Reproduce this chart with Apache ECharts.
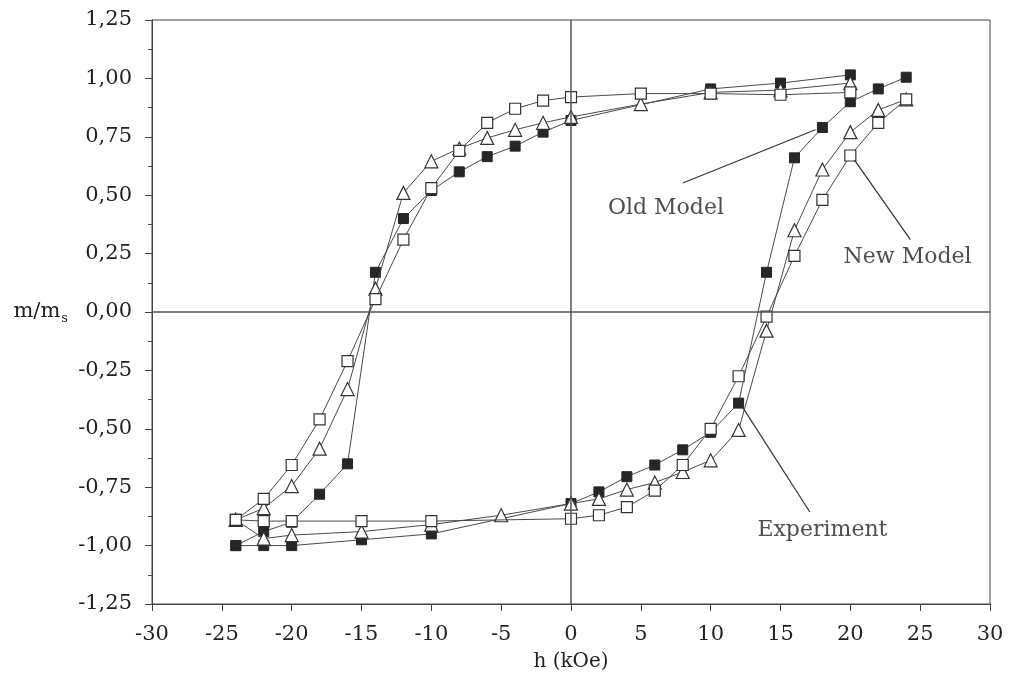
<!DOCTYPE html>
<html>
<head>
<meta charset="utf-8">
<script src="https://cdn.jsdelivr.net/npm/echarts@6/dist/echarts.min.js"></script>
<style>
html,body{margin:0;padding:0;background:#fff;}
#c{width:1010px;height:688px;}
</style>
</head>
<body>
<div id="c"></div>
<script>
// ---- data (h in kOe, m/ms) ----
// Filled squares
const expUpperH = [20, 15, 10, 0, -2, -4, -6, -8, -10, -12, -14, -16, -18, -20, -22, -24];
const expUpperM = [1.015, 0.98, 0.955, 0.82, 0.77, 0.71, 0.665, 0.60, 0.52, 0.40, 0.17, -0.65, -0.78, -0.90, -0.94, -1.00];
const expLowerH = [-24, -22, -20, -15, -10, 0, 2, 4, 6, 8, 10, 12, 14, 16, 18, 20, 22, 24];
const expLowerM = [-1.00, -1.00, -1.00, -0.975, -0.95, -0.82, -0.77, -0.705, -0.655, -0.59, -0.515, -0.39, 0.17, 0.66, 0.79, 0.90, 0.955, 1.005];
// Triangles
const oldUpperH = [20, 15, 10, 5, 0, -2, -4, -6, -8, -10, -12, -14, -16, -18, -20, -22, -24];
const oldUpperM = [0.98, 0.95, 0.94, 0.89, 0.835, 0.81, 0.78, 0.745, 0.70, 0.645, 0.51, 0.10, -0.33, -0.585, -0.745, -0.84, -0.89];
const oldLowerH = [-24, -22, -20, -15, -10, -5, 0, 2, 4, 6, 8, 10, 12, 14, 16, 18, 20, 22, 24];
const oldLowerM = [-0.89, -0.97, -0.955, -0.94, -0.91, -0.87, -0.82, -0.80, -0.76, -0.73, -0.685, -0.635, -0.505, -0.08, 0.35, 0.61, 0.77, 0.865, 0.91];
// Open squares
const newUpperH = [20, 15, 10, 5, 0, -2, -4, -6, -8, -10, -12, -14, -16, -18, -20, -22, -24];
const newUpperM = [0.94, 0.93, 0.935, 0.935, 0.92, 0.905, 0.87, 0.81, 0.69, 0.53, 0.31, 0.055, -0.21, -0.46, -0.655, -0.80, -0.89];
const newLowerH = [-24, -22, -20, -15, -10, 0, 2, 4, 6, 8, 10, 12, 14, 16, 18, 20, 22, 24];
const newLowerM = [-0.89, -0.895, -0.895, -0.895, -0.895, -0.885, -0.87, -0.835, -0.765, -0.655, -0.50, -0.275, -0.02, 0.24, 0.48, 0.67, 0.81, 0.91];

const xTicks = [-30, -25, -20, -15, -10, -5, 0, 5, 10, 15, 20, 25, 30];
const yTicks = [-1.25, -1.00, -0.75, -0.50, -0.25, 0.00, 0.25, 0.50, 0.75, 1.00, 1.25];
const annotationLabels = ['Old Model', 'New Model', 'Experiment'];

function pairs(h, m) { return h.map((v, i) => [v, m[i]]); }

const FONT = 'DejaVu Serif';
const lineCol = '#4a4a4a';

const chart = echarts.init(document.getElementById('c'), null, {renderer: 'canvas'});

const filledStyle = {
  type: 'line', symbol: 'rect', symbolSize: 10, showSymbol: true,
  lineStyle: {color: lineCol, width: 1},
  itemStyle: {color: '#262626', borderColor: '#262626', borderWidth: 1},
  z: 2, animation: false, silent: true
};
const triStyle = {
  type: 'line', symbol: 'triangle', symbolSize: 13, showSymbol: true,
  lineStyle: {color: lineCol, width: 1},
  itemStyle: {color: '#ffffff', borderColor: '#333', borderWidth: 1.2},
  z: 3, animation: false, silent: true
};
const openStyle = {
  type: 'line', symbol: 'rect', symbolSize: 11, showSymbol: true,
  lineStyle: {color: lineCol, width: 1},
  itemStyle: {color: '#ffffff', borderColor: '#333', borderWidth: 1.2},
  z: 4, animation: false, silent: true
};

const option = {
  animation: false,
  backgroundColor: '#ffffff',
  grid: {left: 152, right: 20, top: 20, bottom: 84, show: true, borderColor: '#444', borderWidth: 1, backgroundColor: 'transparent'},
  xAxis: {
    type: 'value', min: xTicks[0], max: xTicks[xTicks.length - 1], interval: 5,
    name: 'h (kOe)', nameLocation: 'middle', nameGap: 48,
    nameTextStyle: {fontFamily: FONT, fontSize: 20, color: '#222'},
    axisLine: {show: true, onZero: false, lineStyle: {color: '#444', width: 1}},
    axisTick: {show: true, length: 7, lineStyle: {color: '#444'}},
    minorTick: {show: false},
    axisLabel: {fontFamily: FONT, fontSize: 21, color: '#222', margin: 20,
      formatter: v => String(v)},
    splitLine: {show: false}
  },
  yAxis: {
    type: 'value', min: yTicks[0], max: yTicks[yTicks.length - 1], interval: 0.25,
    name: '{a|m/m}{b|s}', nameLocation: 'middle', nameRotate: 0, nameGap: 84,
    nameTextStyle: {fontFamily: FONT, color: '#222',
      rich: {a: {fontFamily: FONT, fontSize: 21, color: '#222'},
             b: {fontFamily: FONT, fontSize: 13, color: '#222', padding: [14, 0, 0, 1]}}},
    axisLine: {show: true, onZero: false, lineStyle: {color: '#444', width: 1}},
    axisTick: {show: true, length: 7, lineStyle: {color: '#444'}},
    minorTick: {show: true, splitNumber: 2, length: 4, lineStyle: {color: '#444'}},
    axisLabel: {fontFamily: FONT, fontSize: 21, color: '#222', margin: 20,
      formatter: v => v.toFixed(2).replace('.', ',')},
    splitLine: {show: false}
  },
  series: [
    Object.assign({name: 'Experiment', data: pairs(expUpperH, expUpperM)}, filledStyle),
    Object.assign({name: 'Experiment', data: pairs(expLowerH, expLowerM)}, filledStyle),
    Object.assign({name: 'Old Model', data: pairs(oldUpperH, oldUpperM)}, triStyle),
    Object.assign({name: 'Old Model', data: pairs(oldLowerH, oldLowerM)}, triStyle),
    Object.assign({name: 'New Model', data: pairs(newUpperH, newUpperM)}, openStyle),
    Object.assign({name: 'New Model', data: pairs(newLowerH, newLowerM)}, openStyle),
    {
      // zero lines
      type: 'line', data: [], silent: true, z: 1,
      markLine: {
        silent: true, symbol: ['none', 'none'], animation: false,
        label: {show: false},
        lineStyle: {color: '#555', width: 1.5, type: 'solid'},
        data: [{xAxis: 0}, {yAxis: 0}]
      }
    },
    {
      // annotation labels and pointer lines
      type: 'scatter', symbolSize: 1, silent: true, z: 6,
      itemStyle: {color: 'rgba(0,0,0,0)'},
      data: [
        [6.8, 0.445, annotationLabels[0]],
        [24.1, 0.235, annotationLabels[1]],
        [18.0, -0.935, annotationLabels[2]]
      ],
      label: {show: true, position: 'inside', fontFamily: FONT, fontSize: 22, color: '#222',
        formatter: p => p.data[2]},
      markLine: {
        silent: true, symbol: ['none', 'none'], animation: false,
        label: {show: false},
        lineStyle: {color: '#333', width: 1.2, type: 'solid'},
        data: [
          [{coord: [8.0, 0.552]}, {coord: [17.5, 0.78]}],
          [{coord: [24.3, 0.31]}, {coord: [20.3, 0.65]}],
          [{coord: [17.1, -0.856]}, {coord: [12.2, -0.40]}]
        ]
      }
    }
  ]
};
chart.setOption(option);
</script>
</body>
</html>
